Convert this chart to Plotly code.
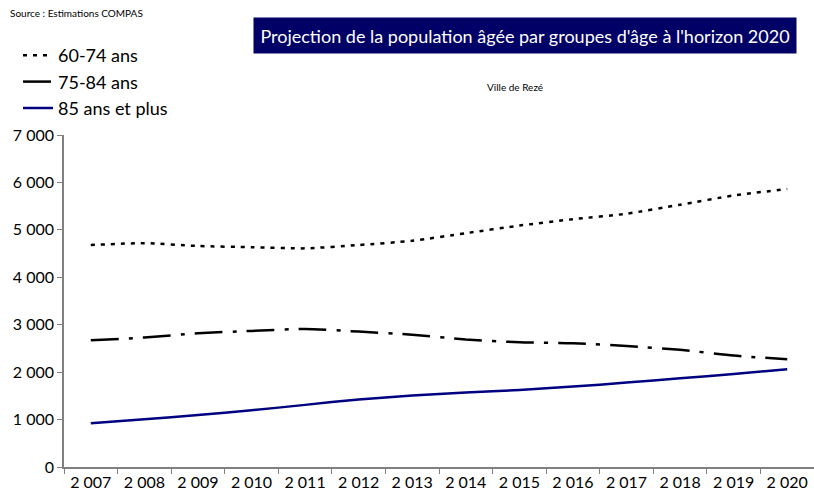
import plotly.graph_objects as go

years = ["2 007", "2 008", "2 009", "2 010", "2 011", "2 012", "2 013",
         "2 014", "2 015", "2 016", "2 017", "2 018", "2 019", "2 020"]
g60_74 = [4680, 4720, 4660, 4635, 4610, 4680, 4770, 4930, 5090, 5225, 5340, 5530, 5725, 5860]
g75_84 = [2670, 2730, 2820, 2870, 2910, 2855, 2790, 2690, 2630, 2610, 2550, 2470, 2350, 2270]
g85 = [920, 1005, 1095, 1195, 1310, 1425, 1505, 1570, 1625, 1695, 1780, 1870, 1960, 2060]

FONT = "Lato"
W, H = 814, 502
L, R, T, B = 64, 0, 135, 35
PW, PH = W - L - R, H - T - B


def px(x):
    return (x - L) / PW


def py(y):
    return (H - B - y) / PH


fig = go.Figure()
fig.add_trace(go.Scatter(x=years, y=g60_74, name="60-74 ans", mode="lines",
                         line=dict(color="black", width=2.5, dash="4px,6px", shape="spline", smoothing=0.6)))
fig.add_trace(go.Scatter(x=years, y=g75_84, name="75-84 ans", mode="lines",
                         line=dict(color="black", width=2.5, dash="28px,10px,4px,10px", shape="spline", smoothing=0.6)))
fig.add_trace(go.Scatter(x=years, y=g85, name="85 ans et plus", mode="lines",
                         line=dict(color="#000080", width=2.5, shape="spline", smoothing=0.6)))

fig.update_layout(
    width=W, height=H,
    margin=dict(l=L, r=R, t=T, b=B, autoexpand=False),
    paper_bgcolor="white", plot_bgcolor="white",
    font=dict(family=FONT, size=15, color="black"),
    separators=", ",
    showlegend=True,
    legend=dict(xref="container", yref="container", x=18 / W, y=1 - 37 / H,
                xanchor="left", yanchor="top",
                font=dict(family=FONT, size=18, color="black"),
                bgcolor="rgba(0,0,0,0)", itemwidth=30, tracegroupgap=0),
    xaxis=dict(type="category", range=[-0.5, 13.5], tickson="boundaries",
               ticks="outside", ticklen=5, tickcolor="#808080", automargin=False,
               showline=True, linecolor="#808080", linewidth=1.5,
               showgrid=False, tickfont=dict(family=FONT, size=16)),
    yaxis=dict(range=[0, 7000], dtick=1000, tickformat=",d", automargin=False,
               ticks="outside", ticklen=5, tickcolor="#808080",
               showline=True, linecolor="#808080", linewidth=1.5,
               showgrid=False, zeroline=False, tickfont=dict(family=FONT, size=16)),
    annotations=[
        dict(text="Source : Estimations COMPAS", xref="paper", yref="paper",
             x=px(8), y=py(13), xanchor="left", yanchor="middle", showarrow=False,
             font=dict(family=FONT, size=10, color="black")),
        dict(text="Projection de la population âgée par groupes d'âge à l'horizon 2020",
             xref="paper", yref="paper", x=px(525), y=py(35),
             xanchor="center", yanchor="middle", showarrow=False,
             bgcolor="#000066", width=540, height=33, borderpad=1,
             font=dict(family=FONT, size=18, color="white")),
        dict(text="Ville de Rezé", xref="paper", yref="paper",
             x=px(515), y=py(87), xanchor="center", yanchor="middle",
             showarrow=False, font=dict(family=FONT, size=10, color="black")),
    ],
)

fig.write_html("out.html", config={"displayModeBar": False},
               post_script="document.body.style.margin='0';")
